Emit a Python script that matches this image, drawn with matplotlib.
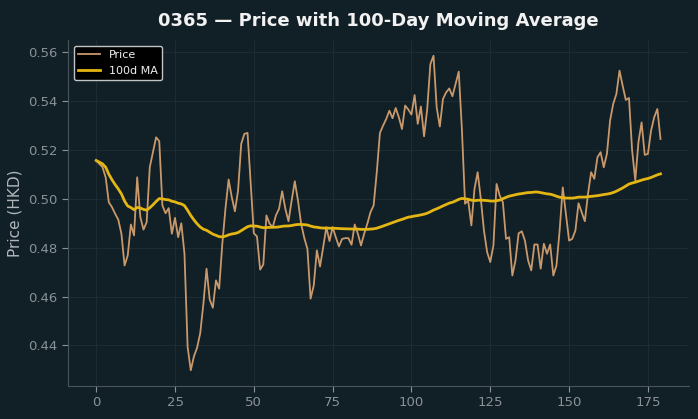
import matplotlib
matplotlib.use("Agg")
import matplotlib.pyplot as plt
import numpy as np
import pandas as pd

title = "0365 — Price with 100-Day Moving Average"
ylabel = "Price (HKD)"
ma_window = 100

price = [
    0.5157, 0.5143, 0.5130, 0.5088, 0.4986, 0.4966, 0.4939, 0.4915, 0.4857, 0.4727,
    0.4768, 0.4895, 0.4850, 0.5088, 0.4925, 0.4874, 0.4904, 0.5130, 0.5191, 0.5252,
    0.5236, 0.4973, 0.4941, 0.4962, 0.4857, 0.4922, 0.4843, 0.4900, 0.4775, 0.4393,
    0.4298, 0.4355, 0.4390, 0.4450, 0.4570, 0.4714, 0.4588, 0.4554, 0.4666, 0.4632,
    0.4815, 0.4960, 0.5079, 0.5007, 0.4949, 0.5034, 0.5225, 0.5266, 0.5270, 0.5061,
    0.4859, 0.4846, 0.4710, 0.4731, 0.4932, 0.4898, 0.4884, 0.4932, 0.4959, 0.5031,
    0.4959, 0.4908, 0.4993, 0.5072, 0.4993, 0.4898, 0.4840, 0.4795, 0.4591, 0.4645,
    0.4789, 0.4723, 0.4802, 0.4884, 0.4827, 0.4884, 0.4843, 0.4805, 0.4836, 0.4839,
    0.4839, 0.4812, 0.4895, 0.4857, 0.4809, 0.4857, 0.4898, 0.4945, 0.4973, 0.5109,
    0.5270, 0.5300, 0.5327, 0.5361, 0.5330, 0.5372, 0.5334, 0.5286, 0.5382, 0.5366,
    0.5345, 0.5425, 0.5307, 0.5378, 0.5256, 0.5368, 0.5552, 0.5586, 0.5375, 0.5296,
    0.5409, 0.5436, 0.5452, 0.5420, 0.5470, 0.5521, 0.5286, 0.4980, 0.4993, 0.4891,
    0.5041, 0.5109, 0.5000, 0.4870, 0.4782, 0.4741, 0.4809, 0.5061, 0.5013, 0.4986,
    0.4836, 0.4843, 0.4686, 0.4748, 0.4859, 0.4867, 0.4829, 0.4748, 0.4707, 0.4813,
    0.4813, 0.4714, 0.4816, 0.4775, 0.4813, 0.4686, 0.4727, 0.4870, 0.5047, 0.4939,
    0.4829, 0.4836, 0.4870, 0.4982, 0.4945, 0.4908, 0.5020, 0.5109, 0.5082, 0.5170,
    0.5191, 0.5129, 0.5184, 0.5320, 0.5389, 0.5429, 0.5525, 0.5463, 0.5405, 0.5413,
    0.5198, 0.5075, 0.5232, 0.5313, 0.5180, 0.5184, 0.5279, 0.5334, 0.5368, 0.5245,
]

days = np.arange(len(price))
ma = pd.Series(price).rolling(ma_window, min_periods=1).mean().values

bg = "#111f26"
fig = plt.figure(figsize=(6.98, 4.19), dpi=100, facecolor=bg)
ax = fig.add_axes([0.0974, 0.0788, 0.8893, 0.8257])
ax.set_facecolor(bg)

ax.plot(days, price, color="#c9996b", lw=1.3, label="Price")
ax.plot(days, ma, color="#e3b614", lw=2.0, label="100d MA")

ax.set_title(title, color="#f2f2f2", fontsize=13, fontweight="bold", pad=10)
ax.set_ylabel(ylabel, color="#b0b6ba", fontsize=11)
ax.tick_params(colors="#8a9296", labelsize=9.5, length=4)
for s in ["top", "right"]:
    ax.spines[s].set_visible(False)
for s in ["left", "bottom"]:
    ax.spines[s].set_color("#4a555b")
ax.grid(True, color="#1d2c33", lw=0.8)
ax.set_axisbelow(True)
ax.set_xticks([0, 25, 50, 75, 100, 125, 150, 175])
ax.set_yticks([0.44, 0.46, 0.48, 0.50, 0.52, 0.54, 0.56])

leg = ax.legend(loc="upper left", facecolor="black", edgecolor="#c0c4c6",
                fontsize=8, framealpha=1.0)
for t in leg.get_texts():
    t.set_color("#f0f0f0")

fig.savefig("out.png", dpi=100, facecolor=bg)
